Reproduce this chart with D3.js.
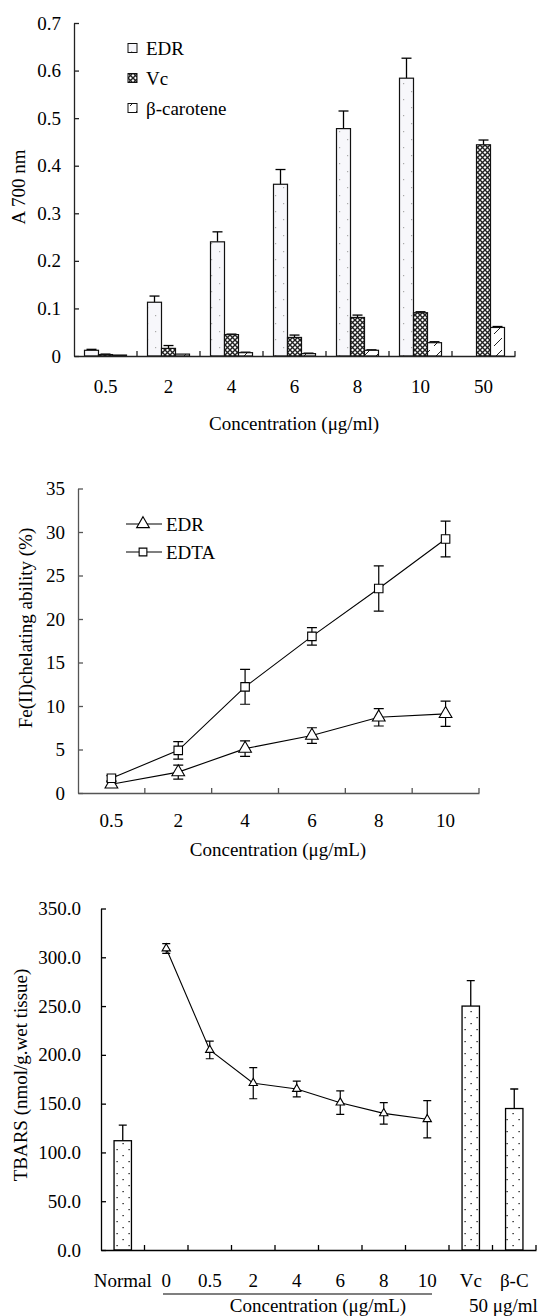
<!DOCTYPE html>
<html>
<head>
<meta charset="utf-8">
<script src="https://cdn.jsdelivr.net/npm/d3@7"></script>
<style>
  body { margin: 0; background: #fff; }
  svg text { font-family: "Liberation Serif", "DejaVu Serif", serif; fill: #000; }
</style>
</head>
<body>
<svg id="fig" width="541" height="1316"></svg>
<script>
// ---- panel A: reducing power ----
const concA = ["0.5", "2", "4", "6", "8", "10", "50"];
const edrA = [0.012, 0.113, 0.240, 0.361, 0.478, 0.584, null];
const edrAErr = [0.002, 0.013, 0.021, 0.031, 0.037, 0.042, null];
const vcA = [0.003, 0.016, 0.045, 0.039, 0.081, 0.091, 0.444];
const vcAErr = [0.001, 0.006, 0.001, 0.005, 0.005, 0.002, 0.010];
const bcA = [0.002, 0.004, 0.007, 0.005, 0.012, 0.028, 0.060];
const bcAErr = [0, 0, 0.001, 0.001, 0.001, 0.002, 0.002];
const seriesA = ["EDR", "Vc", "β-carotene"];

// ---- panel B: Fe(II) chelating ----
const concB = ["0.5", "2", "4", "6", "8", "10"];
const edrB = [1.0, 2.4, 5.1, 6.6, 8.7, 9.1];
const edrBErr = [0.3, 0.8, 0.9, 0.9, 1.0, 1.45];
const edtaB = [1.7, 4.9, 12.2, 18.0, 23.5, 29.2];
const edtaBErr = [0.3, 1.0, 2.0, 1.0, 2.6, 2.05];

// ---- panel C: TBARS ----
const groupsC = ["Normal", "0", "0.5", "2", "4", "6", "8", "10", "Vc", "β-C"];
const lineC = ["0", "0.5", "2", "4", "6", "8", "10"];
const lineCVal = [309, 205, 171, 165, 151, 140, 134];
const lineCErr = [5, 9, 16, 8, 12, 11, 19];
const barsC = ["Normal", "Vc", "β-C"];
const barsCVal = [112, 250, 145];
const barsCErr = [16, 26, 20];

const svg = d3.select("#fig");
const defs = svg.append("defs");

// fill patterns
let p = defs.append("pattern").attr("id", "pEdr").attr("patternUnits", "userSpaceOnUse")
  .attr("width", 16).attr("height", 16);
p.append("rect").attr("width", 16).attr("height", 16).attr("fill", "#f7f7fb");
p.append("rect").attr("x", 3).attr("y", 3).attr("width", 1.2).attr("height", 1.2).attr("fill", "#aaa");
p.append("rect").attr("x", 11).attr("y", 11).attr("width", 1.2).attr("height", 1.2).attr("fill", "#aaa");

p = defs.append("pattern").attr("id", "pVc").attr("patternUnits", "userSpaceOnUse")
  .attr("width", 5).attr("height", 5);
p.append("rect").attr("width", 5).attr("height", 5).attr("fill", "#fff");
p.append("path").attr("d", "M0,0L5,5M5,0L0,5").attr("stroke", "#222").attr("stroke-width", 1.4);

p = defs.append("pattern").attr("id", "pBc").attr("patternUnits", "userSpaceOnUse")
  .attr("width", 12).attr("height", 12);
p.append("rect").attr("width", 12).attr("height", 12).attr("fill", "#fff");
p.append("path").attr("d", "M2,10L10,2").attr("stroke", "#222").attr("stroke-width", 1);

p = defs.append("pattern").attr("id", "pDot").attr("patternUnits", "userSpaceOnUse")
  .attr("width", 12).attr("height", 12);
p.append("rect").attr("width", 12).attr("height", 12).attr("fill", "#fff");
p.append("rect").attr("x", 2.5).attr("y", 3).attr("width", 1.2).attr("height", 1.2).attr("fill", "#000");
p.append("rect").attr("x", 8.5).attr("y", 9).attr("width", 1.2).attr("height", 1.2).attr("fill", "#000");

const fills = ["url(#pEdr)", "url(#pVc)", "url(#pBc)"];

// helper: boundary ticks for band axes, pointing inward
function bandTicks(g, x, y0, len, color) {
  const pos = x.domain().map(d => x(d) - x.step() * x.paddingOuter()).concat([x.range()[1]]);
  g.selectAll(null).data(pos.slice(1)).enter().append("line")
    .attr("x1", d => d).attr("x2", d => d)
    .attr("y1", y0).attr("y2", y0 - len)
    .attr("stroke", color).attr("stroke-width", 1.3);
}

function styleAxis(g, color, size) {
  g.select(".domain").attr("stroke", color).attr("stroke-width", 1.3);
  g.selectAll(".tick line").attr("stroke", color).attr("stroke-width", 1.3);
  g.selectAll("text").attr("font-size", size).attr("fill", "#000");
}

// ================= Panel A =================
{
  const x = d3.scaleBand().domain(concA).range([74, 515]);
  const y = d3.scaleLinear().domain([0, 0.7]).range([356, 23]);
  const xi = d3.scaleBand().domain(seriesA).range([0, x.bandwidth()]).paddingOuter(0.75);
  const g = svg.append("g");

  const data = [];
  concA.forEach((c, i) => {
    [[edrA, edrAErr], [vcA, vcAErr], [bcA, bcAErr]].forEach((s, k) => {
      if (s[0][i] != null) data.push({ c, k, v: s[0][i], e: s[1][i] });
    });
  });

  g.selectAll(".err").data(data.filter(d => d.e > 0)).enter().append("g").each(function (d) {
    const cx = x(d.c) + xi(seriesA[d.k]) + xi.bandwidth() / 2;
    const sel = d3.select(this);
    sel.append("line").attr("x1", cx).attr("x2", cx).attr("y1", y(d.v)).attr("y2", y(d.v + d.e))
      .attr("stroke", "#000").attr("stroke-width", 1.3);
    sel.append("line").attr("x1", cx - 5).attr("x2", cx + 5).attr("y1", y(d.v + d.e)).attr("y2", y(d.v + d.e))
      .attr("stroke", "#000").attr("stroke-width", 1.3);
  });

  g.selectAll(".bar").data(data).enter().append("rect")
    .attr("x", d => x(d.c) + xi(seriesA[d.k]))
    .attr("y", d => y(d.v))
    .attr("width", xi.bandwidth())
    .attr("height", d => y(0) - y(d.v))
    .attr("fill", d => fills[d.k])
    .attr("stroke", "#111").attr("stroke-width", 1.2);

  const ya = g.append("g").attr("transform", "translate(74,0)")
    .call(d3.axisLeft(y).ticks(7).tickSize(-5).tickSizeOuter(0).tickPadding(13)
      .tickFormat(d => d === 0 ? "0" : d3.format(".1f")(d)));
  styleAxis(ya, "#222", 19);

  const xa = g.append("g").attr("transform", "translate(0,356)")
    .call(d3.axisBottom(x).tickSize(0).tickPadding(24));
  styleAxis(xa, "#222", 19);
  bandTicks(g, x, 356, 5, "#222");

  g.append("text").attr("x", 294).attr("y", 430).attr("text-anchor", "middle").attr("font-size", 19)
    .text("Concentration (μg/ml)");
  g.append("text").attr("transform", "translate(25,187) rotate(-90)").attr("text-anchor", "middle")
    .attr("font-size", 19).text("A 700 nm");

  const leg = g.selectAll(".leg").data(seriesA).enter().append("g")
    .attr("transform", (d, i) => `translate(128,${48 + i * 30})`);
  leg.append("rect").attr("x", 0).attr("y", -4.5).attr("width", 9).attr("height", 9)
    .attr("fill", (d, i) => fills[i]).attr("stroke", "#111").attr("stroke-width", 1);
  leg.append("text").attr("x", 18).attr("dy", "0.35em").attr("font-size", 19).text(d => d);
}

// ================= Panel B =================
{
  const x = d3.scaleBand().domain(concB).range([78, 479]);
  const y = d3.scaleLinear().domain([0, 35]).range([793, 488.5]);
  const g = svg.append("g");
  const cx = d => x(d) + x.bandwidth() / 2;

  const ya = g.append("g").attr("transform", "translate(78,0)")
    .call(d3.axisLeft(y).ticks(7).tickSize(-5).tickSizeOuter(0).tickPadding(13));
  styleAxis(ya, "#555", 19);
  const xa = g.append("g").attr("transform", "translate(0,793)")
    .call(d3.axisBottom(x).tickSize(0).tickPadding(21));
  styleAxis(xa, "#555", 19);
  bandTicks(g, x, 793, 5, "#555");

  const series = [
    { v: edrB, e: edrBErr, sym: d3.symbolTriangle, size: 70 },
    { v: edtaB, e: edtaBErr, sym: d3.symbolSquare, size: 72 }
  ];
  const line = d3.line().x((d, i) => cx(concB[i])).y(d => y(d));
  series.forEach(s => {
    g.append("path").attr("d", line(s.v)).attr("fill", "none").attr("stroke", "#000").attr("stroke-width", 1.1);
    concB.forEach((c, i) => {
      const px = cx(c), lo = y(s.v[i] - s.e[i]), hi = y(s.v[i] + s.e[i]);
      g.append("path").attr("d", `M${px},${lo}V${hi}M${px - 5},${lo}H${px + 5}M${px - 5},${hi}H${px + 5}`)
        .attr("stroke", "#000").attr("stroke-width", 1.2).attr("fill", "none");
      g.append("path").attr("d", d3.symbol(s.sym, s.size)())
        .attr("transform", `translate(${px},${y(s.v[i])})`)
        .attr("fill", "#fff").attr("stroke", "#000").attr("stroke-width", 1.1);
    });
  });

  const legB = [["EDR", d3.symbolTriangle, 70], ["EDTA", d3.symbolSquare, 60]];
  legB.forEach((l, i) => {
    const ly = 524 + i * 28;
    g.append("line").attr("x1", 126).attr("x2", 162).attr("y1", ly).attr("y2", ly)
      .attr("stroke", "#000").attr("stroke-width", 1.1);
    g.append("path").attr("d", d3.symbol(l[1], l[2])()).attr("transform", `translate(143,${ly})`)
      .attr("fill", "#fff").attr("stroke", "#000").attr("stroke-width", 1.1);
    g.append("text").attr("x", 166).attr("y", ly).attr("dy", "0.35em").attr("font-size", 19).text(l[0]);
  });

  g.append("text").attr("x", 278).attr("y", 856).attr("text-anchor", "middle").attr("font-size", 19)
    .text("Concentration (μg/mL)");
  g.append("text").attr("transform", "translate(32,628) rotate(-90)").attr("text-anchor", "middle")
    .attr("font-size", 19).text("Fe(II)chelating ability (%)");
}

// ================= Panel C =================
{
  const x = d3.scaleBand().domain(groupsC).range([101, 536]);
  const y = d3.scaleLinear().domain([0, 350]).range([1250, 908.5]);
  const g = svg.append("g");
  const cx = d => x(d) + x.bandwidth() / 2;
  const bw = x.bandwidth() * 0.4;

  barsC.forEach((b, i) => {
    const px = cx(b), top = y(barsCVal[i]), et = y(barsCVal[i] + barsCErr[i]);
    g.append("path").attr("d", `M${px},${top}V${et}M${px - 4},${et}H${px + 4}`)
      .attr("stroke", "#000").attr("stroke-width", 1.3);
    g.append("rect").attr("x", px - bw / 2).attr("y", top).attr("width", bw).attr("height", y(0) - top)
      .attr("fill", "url(#pDot)").attr("stroke", "#000").attr("stroke-width", 1.3);
  });

  const line = d3.line().x((d, i) => cx(lineC[i])).y(d => y(d));
  g.append("path").attr("d", line(lineCVal)).attr("fill", "none").attr("stroke", "#000").attr("stroke-width", 1.1);
  lineC.forEach((c, i) => {
    const px = cx(c), lo = y(lineCVal[i] - lineCErr[i]), hi = y(lineCVal[i] + lineCErr[i]);
    g.append("path").attr("d", `M${px},${lo}V${hi}M${px - 4},${lo}H${px + 4}M${px - 4},${hi}H${px + 4}`)
      .attr("stroke", "#000").attr("stroke-width", 1.2).attr("fill", "none");
    g.append("path").attr("d", d3.symbol(d3.symbolTriangle, 30)())
      .attr("transform", `translate(${px},${y(lineCVal[i])})`)
      .attr("fill", "#fff").attr("stroke", "#000").attr("stroke-width", 1.1);
  });

  const ya = g.append("g").attr("transform", "translate(101,0)")
    .call(d3.axisLeft(y).ticks(7).tickSize(-5).tickSizeOuter(0).tickPadding(20).tickFormat(d3.format(".1f")));
  styleAxis(ya, "#000", 19);
  const xa = g.append("g").attr("transform", "translate(0,1250)")
    .call(d3.axisBottom(x).tickSize(0).tickPadding(24));
  styleAxis(xa, "#000", 19);
  bandTicks(g, x, 1250, 5, "#000");

  g.append("line").attr("x1", 163).attr("x2", 432).attr("y1", 1294).attr("y2", 1294)
    .attr("stroke", "#000").attr("stroke-width", 1.2);
  g.append("text").attr("x", 318).attr("y", 1312).attr("text-anchor", "middle").attr("font-size", 19)
    .text("Concentration (μg/mL)");
  g.append("text").attr("x", 469).attr("y", 1312).attr("font-size", 19).text("50 μg/ml");
  g.append("text").attr("transform", "translate(27,1075) rotate(-90)").attr("text-anchor", "middle")
    .attr("font-size", 19).text("TBARS (nmol/g.wet tissue)");
}
</script>
</body>
</html>
